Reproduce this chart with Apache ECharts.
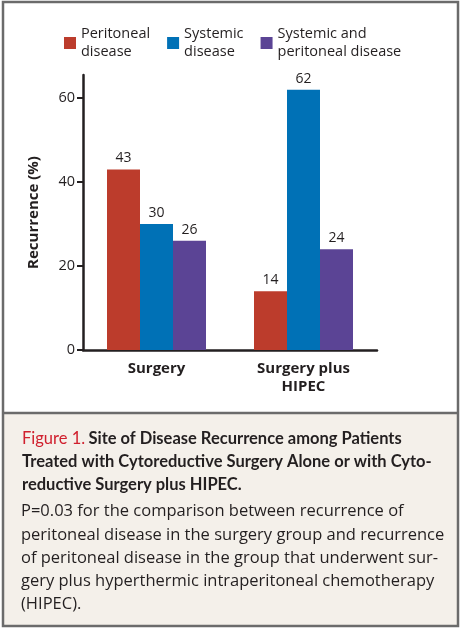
<!DOCTYPE html>
<html>
<head>
<meta charset="utf-8">
<script src="https://cdn.jsdelivr.net/npm/echarts@6/dist/echarts.min.js"></script>
<style>
  html, body { margin: 0; padding: 0; background: #fff; }
  #container { width: 462px; height: 633px; }
</style>
</head>
<body>
<div id="container"></div>
<script>
var categories = ["Surgery", "Surgery plus\nHIPEC"];
var seriesNames = ["Peritoneal\ndisease", "Systemic\ndisease", "Systemic and\nperitoneal disease"];
var peritoneal = [43, 14];
var systemic = [30, 62];
var both = [26, 24];
var yTicks = [0, 20, 40, 60];

var titleLines = [
  "Site of Disease Recurrence among Patients",
  "Treated with Cytoreductive Surgery Alone or with Cyto-",
  "reductive Surgery plus HIPEC."
];
var bodyLines = [
  "P=0.03 for the comparison between recurrence of",
  "peritoneal disease in the surgery group and recurrence",
  "of peritoneal disease in the group that underwent sur-",
  "gery plus hyperthermic intraperitoneal chemotherapy",
  "(HIPEC)."
];

var colors = ["#bc3c2c", "#0071b6", "#5b4495"];
var font = "'Open Sans', 'Noto Sans', sans-serif";
var titleFont = "Lato, 'Open Sans', sans-serif";

var dom = document.getElementById("container");
var myChart = echarts.init(dom);

function bar(name, data, color) {
  return {
    name: name,
    type: "bar",
    data: data,
    barWidth: 33,
    barGap: "0%",
    itemStyle: { color: color },
    label: {
      show: true,
      position: "top",
      distance: 4,
      color: "#231f20",
      fontSize: 14,
      fontFamily: font
    }
  };
}

var graphics = [
  // caption background
  { type: "rect", shape: { x: 3, y: 413, width: 455, height: 213 }, style: { fill: "#f4f0ea" }, z: -10 },
  // outer frame
  { type: "rect", shape: { x: 3, y: 2, width: 455, height: 624 }, style: { fill: null, stroke: "#6b6b6b", lineWidth: 2.5 } },
  // separator
  { type: "line", shape: { x1: 3, y1: 413, x2: 458, y2: 413 }, style: { stroke: "#6b6b6b", lineWidth: 2.5 } },
  {
    type: "text", left: 22, top: 430,
    style: {
      text: "{r|Figure 1.} {b|" + titleLines[0] + "}",
      rich: {
        r: { fill: "#d0202e", fontSize: 16.5, fontFamily: titleFont, fontWeight: "normal" },
        b: { fill: "#231f20", fontSize: 16.5, fontFamily: titleFont, fontWeight: "bold" }
      }
    }
  }
];
titleLines.slice(1).forEach(function (t, i) {
  graphics.push({
    type: "text", left: 22, top: 453 + i * 23,
    style: { text: t, fill: "#231f20", fontSize: 16.5, fontFamily: titleFont, fontWeight: "bold" }
  });
});
bodyLines.forEach(function (t, i) {
  graphics.push({
    type: "text", left: 21, top: 503 + i * 23.3,
    style: { text: t, fill: "#231f20", fontSize: 16.5, fontFamily: font }
  });
});

var option = {
  animation: false,
  backgroundColor: "#fff",
  legend: {
    top: 20,
    left: 59,
    itemWidth: 12,
    itemHeight: 12,
    itemGap: 17,
    icon: "rect",
    textStyle: { fontSize: 14.5, fontFamily: font, color: "#231f20", lineHeight: 18 },
    data: seriesNames
  },
  grid: { left: 83, top: 75, width: 294, height: 275 },
  xAxis: {
    type: "category",
    data: categories,
    axisLine: { lineStyle: { color: "#231f20", width: 2.5 } },
    axisTick: { show: false },
    axisLabel: {
      color: "#231f20",
      fontSize: 15,
      fontWeight: "bold",
      fontFamily: font,
      lineHeight: 18,
      margin: 10,
      interval: 0
    }
  },
  yAxis: {
    type: "value",
    min: 0,
    max: 65.5,
    name: "Recurrence (%)",
    nameLocation: "middle",
    nameGap: 42,
    nameTextStyle: { fontSize: 15, fontWeight: "bold", fontFamily: font, color: "#231f20" },
    axisLine: { show: true, lineStyle: { color: "#231f20", width: 2.5 } },
    axisTick: { show: true, length: 6, customValues: yTicks, lineStyle: { color: "#231f20", width: 2 } },
    axisLabel: { customValues: yTicks, color: "#231f20", fontSize: 14.5, fontFamily: font, margin: 8 },
    splitLine: { show: false }
  },
  series: [
    bar(seriesNames[0], peritoneal, colors[0]),
    bar(seriesNames[1], systemic, colors[1]),
    bar(seriesNames[2], both, colors[2])
  ],
  graphic: graphics
};

myChart.setOption(option);
</script>
</body>
</html>
